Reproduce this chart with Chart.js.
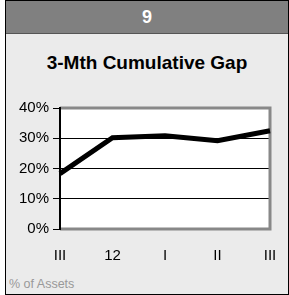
<!DOCTYPE html>
<html>
<head>
<meta charset="utf-8">
<script src="https://cdn.jsdelivr.net/npm/chart.js@4"></script>
<style>
	html, body { margin: 0; padding: 0; background: #fff; }
	#card {
		position: absolute; left: 5px; top: 0; width: 282px; height: 293px;
		border: 1px solid #000; background: #ebebeb;
		font-family: "Liberation Sans", Arial, sans-serif;
	}
	#head {
		height: 32px; background: #808080; border-bottom: 1px solid #555;
		color: #fff; font-weight: bold; font-size: 18px; text-align: center; line-height: 33px;
	}
	#title {
		position: absolute; left: 0; width: 100%; top: 51px;
		text-align: center; font-weight: bold; font-size: 19px; color: #000;
	}
	#note {
		position: absolute; left: 3px; top: 276px; font-size: 12.5px; color: #999;
	}
	#wrap { position: absolute; left: 0; top: 0; width: 289px; height: 295px; }
</style>
</head>
<body>
<div id="card">
	<div id="head">9</div>
	<div id="title">3-Mth Cumulative Gap</div>
	<div id="note">% of Assets</div>
</div>
<div id="wrap"><canvas id="myChart"></canvas></div>
<script>
// 3-month cumulative gap, % of assets
const categories = ["III", "12", "I", "II", "III"];
const gapValues = [18.3, 30.2, 30.8, 29.2, 32.5];
const yTicks = [0, 10, 20, 30, 40];

const frame = {
	id: "frame",
	beforeDraw(chart) {
		const a = chart.chartArea;
		const c = chart.ctx;
		c.save();
		c.fillStyle = "#fff";
		c.fillRect(a.left, a.top, a.right - a.left, a.bottom - a.top);
		c.restore();
	},
	beforeDatasetsDraw(chart) {
		const a = chart.chartArea;
		const c = chart.ctx;
		c.save();
		c.strokeStyle = "#888";
		c.lineWidth = 3;
		c.beginPath();
		c.moveTo(a.left, a.top);
		c.lineTo(a.right, a.top);
		c.lineTo(a.right, a.bottom);
		c.lineTo(a.left, a.bottom);
		c.stroke();
		c.strokeStyle = "#000";
		c.lineWidth = 2;
		c.beginPath();
		c.moveTo(a.left, a.top - 1);
		c.lineTo(a.left, a.bottom + 1);
		c.stroke();
		c.restore();
	}
};

const ctx = document.getElementById("myChart").getContext("2d");
const myChart = new Chart(ctx, {
	type: "line",
	data: {
		labels: categories,
		datasets: [
			{
				data: gapValues,
				borderColor: "#000",
				borderWidth: 5,
				pointRadius: 0,
				tension: 0,
				fill: false,
				clip: false,
			},
		],
	},
	options: {
		responsive: true,
		maintainAspectRatio: false,
		animation: false,
		events: [],
		layout: { padding: { top: 108, left: 0, right: 19, bottom: 0 } },
		plugins: { legend: { display: false }, tooltip: { enabled: false } },
		scales: {
			x: {
				offset: false,
				grid: { display: false, drawTicks: false },
				border: { display: false },
				ticks: {
					color: "#000",
					font: { family: "Liberation Sans", size: 15 },
					padding: 18,
					maxRotation: 0,
				},
				afterFit(scale) { scale.height = 295 - 229; scale.paddingRight = 0; scale.paddingLeft = 0; },
			},
			y: {
				min: 0,
				max: 40,
				afterBuildTicks(scale) { scale.ticks = yTicks.map(v => ({ value: v })); },
				grid: {
					color: c => (c.tick && c.tick.value > 0 && c.tick.value < 40) ? "#000" : "rgba(0,0,0,0)",
					tickColor: "#000",
					tickLength: 7,
					lineWidth: 1,
				},
				border: { display: false },
				ticks: {
					color: "#000",
					font: { family: "Liberation Sans", size: 15 },
					padding: 4,
					callback: v => v + "%",
				},
				afterFit(scale) { scale.width = 60; scale.paddingTop = 0; scale.paddingBottom = 0; },
			},
		},
	},
	plugins: [frame],
});
</script>
</body>
</html>
